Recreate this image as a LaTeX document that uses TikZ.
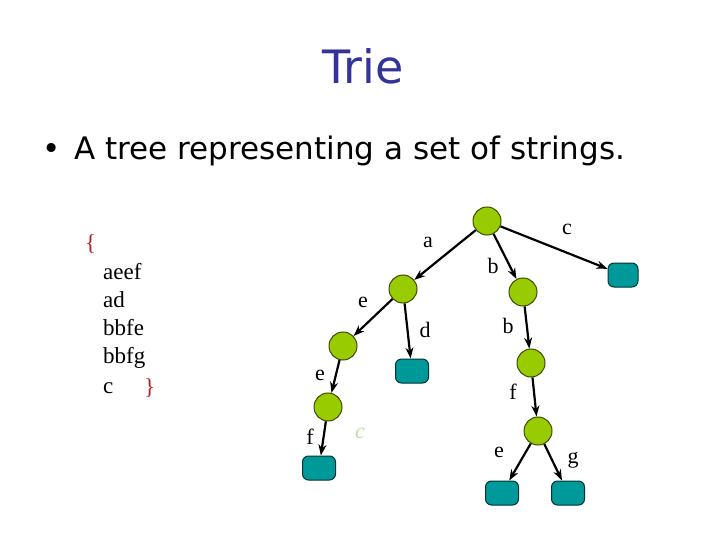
\documentclass[tikz,border=0pt]{standalone}
\usepackage{fontspec}
\setmainfont{Liberation Serif}
\newfontfamily\comicf{DejaVu Sans}
\usetikzlibrary{arrows.meta}
\definecolor{nodegreen}{HTML}{99CC00}
\definecolor{nodeborder}{HTML}{3A4D00}
\definecolor{leafteal}{HTML}{009999}
\definecolor{leafborder}{HTML}{003333}
\definecolor{titleblue}{HTML}{333399}
\definecolor{setred}{HTML}{B22222}
\definecolor{lightgreen}{HTML}{B8E0A8}
\tikzset{
  inner/.style={circle, fill=nodegreen, draw=nodeborder, line width=1pt, minimum size=28pt, inner sep=0pt},
  leaf/.style={rounded corners=6pt, fill=leafteal, draw=leafborder, line width=1pt, minimum width=33pt, minimum height=24pt, inner sep=0pt},
  edge/.style={line width=2.2pt, -{Stealth[length=11pt,width=8pt]}},
  lbl/.style={font=\fontsize{22}{24}\selectfont, inner sep=0pt},
  settext/.style={font=\fontsize{23}{28}\selectfont, inner sep=0pt, anchor=base west}
}
\begin{document}
\begin{tikzpicture}[x=1pt,y=-1pt]
\useasboundingbox (0,0) rectangle (720,540);
\node[font=\comicf\fontsize{46}{50}\selectfont, text=titleblue] (title) at (363,66) {Trie};
\node[font=\comicf\fontsize{31}{34}\selectfont, anchor=base, inner sep=0pt] (bul) at (52,160) {\textbullet};
\node[font=\comicf\fontsize{31}{34}\selectfont, anchor=base west, inner sep=0pt] (bullet) at (74,160) {A tree representing a set of strings.};
% set
\node[settext, text=setred] (lb) at (85,250) {\{};
\node[settext] (s1) at (103,279) {aeef};
\node[settext] (s2) at (103,307) {ad};
\node[settext] (s3) at (103,335) {bbfe};
\node[settext] (s4) at (103,363) {bbfg};
\node[settext] (s5) at (103,393) {c};
\node[settext, text=setred] (rb) at (144,394) {\}};
% tree
\node[inner] (root) at (487,221) {};
\node[leaf, minimum width=30pt] (lc) at (623,275) {};
\node[inner] (na) at (403,289) {};
\node[inner] (nb) at (523,292) {};
\node[inner] (nae) at (343,346) {};
\node[leaf] (ld) at (412,371) {};
\node[inner] (naee) at (328,407) {};
\node[leaf] (laeef) at (319,468) {};
\node[inner] (nbb) at (531,363) {};
\node[inner] (nbbf) at (538,431) {};
\node[leaf] (lbbfe) at (502,493) {};
\node[leaf] (lbbfg) at (568,493) {};
\draw[edge] (root) -- (lc);
\draw[edge] (root) -- (na);
\draw[edge] (root) -- (nb);
\draw[edge] (na) -- (nae);
\draw[edge] (na) -- (ld);
\draw[edge] (nae) -- (naee);
\draw[edge] (naee) -- (laeef);
\draw[edge] (nb) -- (nbb);
\draw[edge] (nbb) -- (nbbf);
\draw[edge] (nbbf) -- (lbbfe);
\draw[edge] (nbbf) -- (lbbfg);
% labels
\node[lbl] (la) at (428,242) {a};
\node[lbl] (lbl1) at (493,266) {b};
\node[lbl] (lcl) at (567,229) {c};
\node[lbl] (le1) at (363,302) {e};
\node[lbl] (ldl) at (425,330) {d};
\node[lbl] (lb2) at (508,326) {b};
\node[lbl] (le2) at (320,375) {e};
\node[lbl] (lf1) at (513,392) {f};
\node[lbl] (lf2) at (310,437) {f};
\node[lbl, text=lightgreen, font=\itshape\fontsize{22}{24}\selectfont] (lcg) at (360,433) {c};
\node[lbl] (le3) at (499,452) {e};
\node[lbl] (lg) at (573,460) {g};
\end{tikzpicture}
\end{document}
